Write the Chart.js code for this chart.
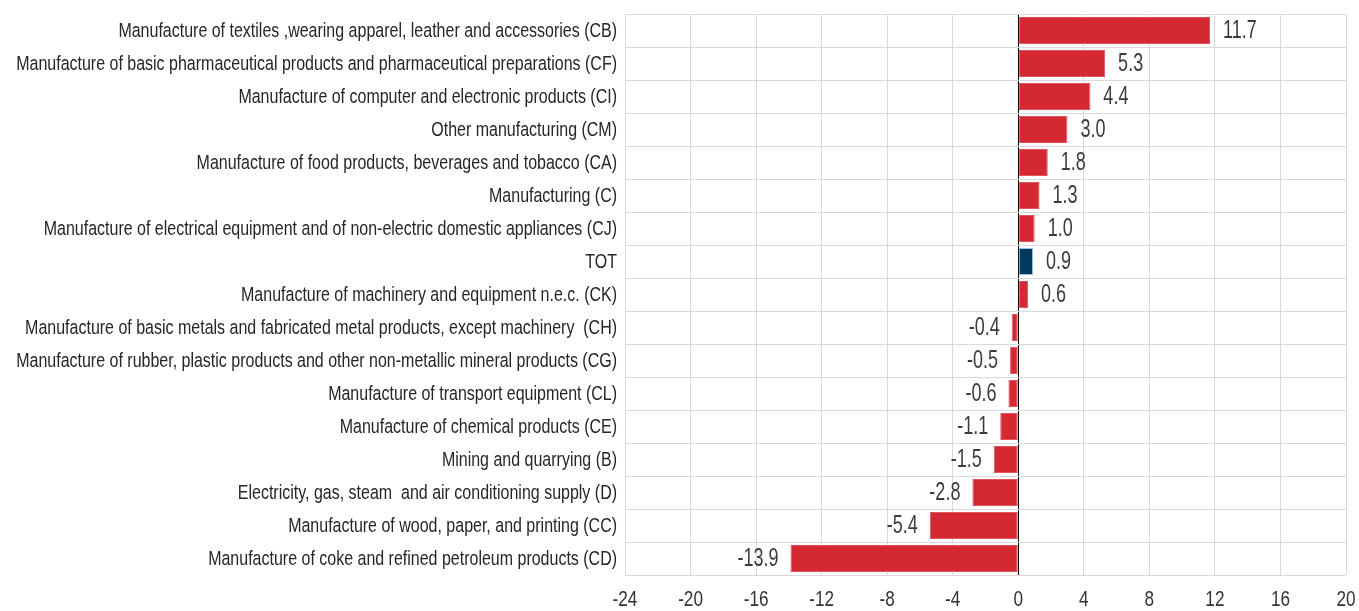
<!DOCTYPE html>
<html>
<head>
<meta charset="utf-8">
<script src="https://cdn.jsdelivr.net/npm/chart.js@4"></script>
<style>
  html, body { margin: 0; padding: 0; background: #fff; }
  #wrap { width: 1359px; height: 611px; }
</style>
</head>
<body>
<div id="wrap"><canvas id="myChart" width="1359" height="611"></canvas></div>
<script>
// categories, top to bottom
const categories = [
  "Manufacture of textiles ,wearing apparel, leather and accessories (CB)",
  "Manufacture of basic pharmaceutical products and pharmaceutical preparations (CF)",
  "Manufacture of computer and electronic products (CI)",
  "Other manufacturing (CM)",
  "Manufacture of food products, beverages and tobacco (CA)",
  "Manufacturing (C)",
  "Manufacture of electrical equipment and of non-electric domestic appliances (CJ)",
  "TOT",
  "Manufacture of machinery and equipment n.e.c. (CK)",
  "Manufacture of basic metals and fabricated metal products, except machinery  (CH)",
  "Manufacture of rubber, plastic products and other non-metallic mineral products (CG)",
  "Manufacture of transport equipment (CL)",
  "Manufacture of chemical products (CE)",
  "Mining and quarrying (B)",
  "Electricity, gas, steam  and air conditioning supply (D)",
  "Manufacture of wood, paper, and printing (CC)",
  "Manufacture of coke and refined petroleum products (CD)"
];
const values = [11.7, 5.3, 4.4, 3.0, 1.8, 1.3, 1.0, 0.9, 0.6, -0.4, -0.5, -0.6, -1.1, -1.5, -2.8, -5.4, -13.9];

const xMin = -24, xMax = 20, xStep = 4;

// no narrow font installed, so text is squeezed horizontally by hand
const FONT = "'Liberation Sans', Arial, sans-serif";

// bar colours: TOT highlighted
let barColors = categories.map(c => c == "TOT" ? "#003a5c" : "#d42833");
let borderColors = categories.map(c => c == "TOT" ? "#9cc2e5" : "#e0555e");

function narrowText(ctx, txt, x, y, align, squeeze) {
  ctx.save();
  ctx.textAlign = align;
  ctx.scale(squeeze, 1);
  ctx.fillText(txt, x / squeeze, y);
  ctx.restore();
}

// axis labels and value labels
const textLayer = {
  id: "textLayer",
  afterDatasetsDraw(chart) {
    const ctx = chart.ctx;
    const xs = chart.scales.x, ys = chart.scales.y;
    ctx.save();
    ctx.textBaseline = "middle";

    // category labels
    ctx.font = "20.5px " + FONT;
    ctx.fillStyle = "#262626";
    categories.forEach(function(c, i) {
      narrowText(ctx, c, xs.left - 8, ys.getPixelForTick(i) + 1, "right", 0.78);
    });

    // x tick labels
    ctx.font = "22px " + FONT;
    ctx.fillStyle = "#333333";
    xs.ticks.forEach(function(t) {
      narrowText(ctx, String(t.value), xs.getPixelForValue(t.value), 600, "center", 0.78);
    });

    // values next to the bar ends
    ctx.font = "25px " + FONT;
    ctx.fillStyle = "#3c3c3c";
    chart.getDatasetMeta(0).data.forEach(function(bar, i) {
      let v = values[i];
      let txt = v.toFixed(1);
      if (v >= 0) narrowText(ctx, txt, bar.x + 13, bar.y + 1, "left", 0.72);
      else narrowText(ctx, txt, bar.x - 12, bar.y + 1, "right", 0.72);
    });
    ctx.restore();
  }
};

var ctx = document.getElementById("myChart").getContext("2d");
var myChart = new Chart(ctx, {
  type: "bar",
  data: {
    labels: categories,
    datasets: [{
      data: values,
      backgroundColor: barColors,
      borderColor: borderColors,
      borderWidth: 1,
      borderSkipped: false,
      barPercentage: 0.82,
      categoryPercentage: 1.0
    }]
  },
  options: {
    indexAxis: "y",
    responsive: false,
    animation: false,
    layout: { padding: { top: 14, right: 13, left: 0, bottom: 0 } },
    plugins: {
      legend: { display: false },
      tooltip: { enabled: false }
    },
    scales: {
      x: {
        min: xMin,
        max: xMax,
        ticks: { stepSize: xStep, display: false },
        grid: {
          color: c => c.tick && c.tick.value === 0 ? "#000000" : "#d9d9d9",
          lineWidth: 1,
          drawTicks: false
        },
        border: { display: false },
        afterFit: s => { s.height = 36; }
      },
      y: {
        ticks: { display: false, autoSkip: false },
        grid: {
          color: "#d9d9d9",
          offset: true,
          drawTicks: false
        },
        border: { display: true, color: "#d9d9d9" },
        afterFit: s => { s.width = 625; }
      }
    }
  },
  plugins: [textLayer]
});
</script>
</body>
</html>
